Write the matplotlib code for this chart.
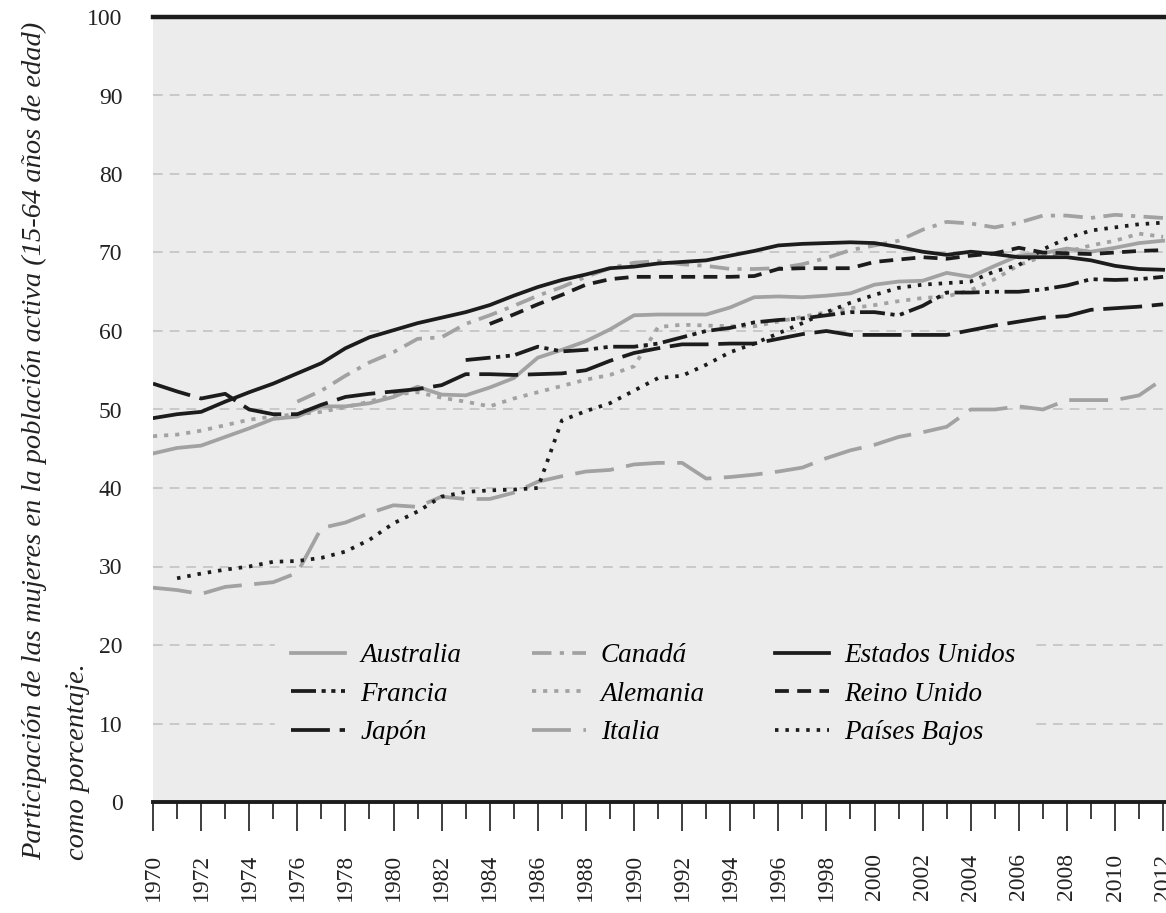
import numpy as np
import matplotlib
matplotlib.use("Agg")
import matplotlib.pyplot as plt
from matplotlib.ticker import MultipleLocator

nan = np.nan
years = list(range(1970, 2013))

australia = [44.4, 45.1, 45.4, 46.5, 47.6, 48.8, 49.1, 50.4, 50.4, 50.8, 51.6, 52.9, 51.9, 51.8, 52.8,
             54.0, 56.6, 57.6, 58.7, 60.2, 62.0, 62.1, 62.1, 62.1, 63.0, 64.3, 64.4, 64.3, 64.5, 64.8,
             65.9, 66.3, 66.4, 67.4, 66.9, 68.3, 69.6, 69.9, 70.5, 70.1, 70.6, 71.2, 71.5]
canada = [nan, nan, nan, nan, nan, nan, 51.0, 52.4, 54.3, 56.0, 57.3, 59.0, 59.2, 60.9, 62.0,
          63.2, 64.5, 65.6, 66.9, 68.0, 68.7, 68.9, 68.5, 68.3, 67.9, 67.9, 68.0, 68.5, 69.3, 70.3,
          70.9, 71.5, 72.9, 73.9, 73.7, 73.2, 73.8, 74.7, 74.7, 74.4, 74.8, 74.6, 74.4]
estados_unidos = [48.9, 49.4, 49.7, 51.0, 52.2, 53.3, 54.6, 55.9, 57.8, 59.2, 60.1, 61.0, 61.7, 62.4, 63.3,
                  64.5, 65.6, 66.5, 67.2, 68.0, 68.2, 68.6, 68.8, 69.0, 69.6, 70.2, 70.9, 71.1, 71.2, 71.3,
                  71.2, 70.7, 70.1, 69.7, 70.1, 69.8, 69.4, 69.4, 69.4, 69.0, 68.3, 67.9, 67.8]
francia = [nan] * 13 + [56.3, 56.6, 56.9, 58.0, 57.4, 57.6, 58.0, 58.0, 58.4, 59.2, 60.0, 60.4, 61.1,
                        61.4, 61.6, 62.0, 62.4, 62.4, 62.0, 63.2, 64.9, 64.9, 65.0, 65.0, 65.3, 65.8,
                        66.6, 66.5, 66.6, 66.9]
alemania = [46.6, 46.8, 47.3, 48.0, 48.7, 49.1, 49.4, 49.7, 50.3, 51.0, 51.9, 52.2, 51.5, 51.0, 50.4,
            51.4, 52.2, 53.0, 53.8, 54.4, 55.5, 60.5, 60.8, 60.7, 60.6, 60.6, 61.2, 61.8, 62.4, 62.9,
            63.3, 63.8, 64.2, 64.4, 65.2, 66.6, 68.4, 69.5, 70.1, 70.9, 71.5, 72.4, 72.0]
reino_unido = [nan] * 14 + [60.9, 62.1, 63.4, 64.6, 65.9, 66.6, 66.9, 66.9, 66.9, 66.9, 66.9, 67.0,
                            67.9, 68.0, 68.0, 68.0, 68.8, 69.1, 69.4, 69.2, 69.6, 69.9, 70.6, 70.0,
                            69.9, 69.8, 70.0, 70.2, 70.3]
japon = [53.3, 52.3, 51.4, 52.0, 50.0, 49.4, 49.4, 50.6, 51.6, 52.0, 52.3, 52.6, 53.1, 54.5, 54.5,
         54.4, 54.5, 54.6, 55.0, 56.2, 57.2, 57.8, 58.3, 58.3, 58.4, 58.4, 59.0, 59.6, 60.0, 59.5,
         59.5, 59.5, 59.5, 59.5, 60.1, 60.7, 61.2, 61.7, 61.9, 62.7, 62.9, 63.1, 63.4]
italia = [27.3, 27.0, 26.5, 27.4, 27.7, 28.0, 29.2, 34.9, 35.6, 36.8, 37.8, 37.6, 38.9, 38.6, 38.6,
          39.4, 40.8, 41.5, 42.1, 42.3, 43.0, 43.2, 43.2, 41.2, 41.4, 41.7, 42.1, 42.6, 43.8, 44.8,
          45.5, 46.5, 47.1, 47.8, 50.0, 50.0, 50.4, 50.0, 51.2, 51.2, 51.2, 51.8, 53.9]
paises_bajos = [nan, 28.5, 29.1, 29.6, 30.0, 30.6, 30.7, 31.1, 31.9, 33.4, 35.5, 37.0, 38.9, 39.5, 39.7,
                39.8, 40.0, 48.6, 49.8, 50.8, 52.4, 54.0, 54.3, 55.7, 57.3, 58.4, 59.7, 61.0, 62.4, 63.6,
                64.6, 65.5, 65.9, 66.1, 66.3, 67.6, 68.4, 70.4, 71.8, 72.8, 73.2, 73.6, 73.8]

GRAY = "#a2a2a2"
BLACK = "#1c1c1c"
BG = "#ececec"

plt.rcParams["lines.scale_dashes"] = False
plt.rcParams["font.family"] = ["Liberation Serif", "DejaVu Serif"]

fig = plt.figure(figsize=(11.66, 9.13), dpi=100)
ax = fig.add_axes([153 / 1166, 1 - 802 / 913, 1 - 153 / 1166, (802 - 17) / 913])
ax.set_facecolor(BG)

lw = 2.7
# gray series first, black on top
l_aus, = ax.plot(years, australia, color=GRAY, lw=lw, ls="-", label="Australia")
l_can, = ax.plot(years, canada, color=GRAY, lw=lw, ls=(0, (14, 6, 3, 6)), label="Canadá")
l_ale, = ax.plot(years, alemania, color=GRAY, lw=lw, ls=(0, (3, 5)), label="Alemania")
l_ita, = ax.plot(years, italia, color=GRAY, lw=lw, ls=(0, (28, 9)), label="Italia")
l_usa, = ax.plot(years, estados_unidos, color=BLACK, lw=lw, ls="-", label="Estados Unidos")
l_fra, = ax.plot(years, francia, color=BLACK, lw=lw, ls=(0, (18, 4, 3, 4, 3, 4)), label="Francia")
l_ru, = ax.plot(years, reino_unido, color=BLACK, lw=lw, ls=(0, (10, 6)), label="Reino Unido")
l_jap, = ax.plot(years, japon, color=BLACK, lw=lw, ls=(0, (28, 7)), label="Japón")
l_pb, = ax.plot(years, paises_bajos, color=BLACK, lw=lw, ls=(0, (2.5, 5)), label="Países Bajos")

ax.set_xlim(1970, 2012.12)
ax.set_ylim(0, 100)

# grid
for v in range(10, 100, 10):
    ax.axhline(v, color="#c6c6c6", lw=1.3, ls=(0, (7, 5)), zorder=0.5)

for s in ["left", "right"]:
    ax.spines[s].set_visible(False)
ax.spines["top"].set_linewidth(3.2)
ax.spines["top"].set_color(BLACK)
ax.spines["bottom"].set_linewidth(2.8)
ax.spines["bottom"].set_color(BLACK)

ax.xaxis.set_major_locator(MultipleLocator(2))
ax.xaxis.set_minor_locator(MultipleLocator(1))
ax.tick_params(axis="x", which="major", direction="out", length=21, width=1.2,
               color=BLACK, pad=16, labelsize=17, labelrotation=90)
ax.tick_params(axis="x", which="minor", direction="out", length=12, width=1.2, color=BLACK)
ax.yaxis.set_major_locator(MultipleLocator(10))
ax.tick_params(axis="y", which="major", length=0, pad=22, labelsize=17)
for t in ax.get_xticklabels() + ax.get_yticklabels():
    t.set_color("#222222")

handles = [l_aus, l_fra, l_jap, l_can, l_ale, l_ita, l_usa, l_ru, l_pb]
leg = ax.legend(handles=handles, ncol=3, loc="center", bbox_to_anchor=(0.494, 0.137),
                prop={"family": "Liberation Serif", "style": "italic", "size": 19.5},
                frameon=True, facecolor=BG, edgecolor=BG, framealpha=1, fancybox=False,
                handlelength=2.0, handletextpad=0.55, columnspacing=2.6, labelspacing=0.5,
                borderpad=0.6)
leg.set_zorder(3)

fig.text(0.048, 0.058,
         "Participación de las mujeres en la población activa (15-64 años de edad)\ncomo porcentaje.",
         rotation=90, ha="center", va="bottom", multialignment="left",
         fontsize=20.5, style="italic", family="Liberation Serif", color="#222222",
         linespacing=1.95)

plt.savefig("out.png", dpi=100, facecolor="white")
